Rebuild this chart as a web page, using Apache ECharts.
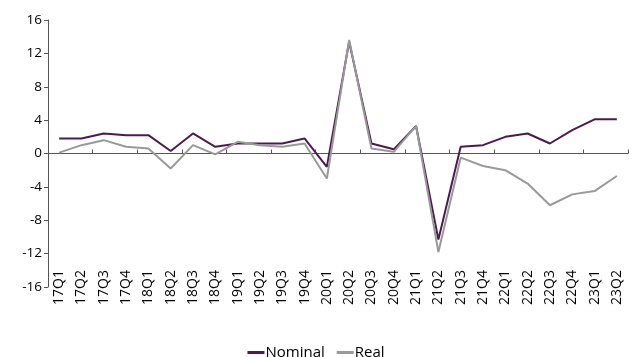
<!DOCTYPE html>
<html><head><meta charset="utf-8">
<script src="https://cdn.jsdelivr.net/npm/echarts@6/dist/echarts.min.js"></script>
<style>html,body{margin:0;padding:0;background:#fff}#c{width:632px;height:357px}</style>
</head><body><div id="c"></div>
<script>
const categories = ["17Q1","17Q2","17Q3","17Q4","18Q1","18Q2","18Q3","18Q4","19Q1","19Q2","19Q3","19Q4","20Q1","20Q2","20Q3","20Q4","21Q1","21Q2","21Q3","21Q4","22Q1","22Q2","22Q3","22Q4","23Q1","23Q2"];
const nominal = [1.8,1.8,2.4,2.2,2.2,0.3,2.4,0.8,1.2,1.2,1.2,1.8,-1.6,13.4,1.2,0.5,3.3,-10.3,0.8,1.0,2.0,2.4,1.2,2.8,4.1,4.1];
const real = [0.1,1.0,1.6,0.8,0.6,-1.8,1.0,-0.1,1.4,1.0,0.8,1.2,-3.0,13.6,0.6,0.2,3.3,-11.8,-0.5,-1.5,-2.0,-3.6,-6.2,-4.9,-4.5,-2.7];
const yTicks = [-16,-12,-8,-4,0,4,8,12,16];

const chart = echarts.init(document.getElementById('c'));
const font = '"Open Sans", "Noto Sans", sans-serif';
chart.setOption({
  animation: false,
  grid: {left: 48, right: 4, top: 20, bottom: 70, containLabel: false},
  legend: {
    top: 340, left: 'center', itemWidth: 17, itemHeight: 3, itemGap: 12,
    icon: 'rect',
    textStyle: {fontFamily: font, fontSize: 15, color: '#000', padding: [0,0,0,-4]},
    data: ['Nominal','Real']
  },
  xAxis: [
    {type: 'category', data: categories, boundaryGap: true, position: 'bottom',
     axisLine: {show: false, onZero: false}, axisTick: {show: false},
     axisLabel: {rotate: 90, margin: -17, fontFamily: font, fontSize: 14, color: '#000', interval: 0}},
    {type: 'category', data: categories, boundaryGap: true,
     axisLine: {show: true, onZero: true, lineStyle: {color: '#555', width: 1}},
     axisTick: {show: true, inside: false, length: 4, lineStyle: {color: '#555'}},
     axisLabel: {show: false}}
  ],
  yAxis: {
    type: 'value', min: yTicks[0], max: yTicks[yTicks.length-1], interval: 4,
    axisLine: {show: true, lineStyle: {color: '#555'}},
    axisTick: {show: true, length: 4, lineStyle: {color: '#555'}},
    splitLine: {show: false},
    axisLabel: {fontFamily: font, fontSize: 13.5, color: '#000', margin: 6,
      formatter: v => String(v)}
  },
  series: [
    {name: 'Nominal', type: 'line', data: nominal, xAxisIndex: 0, symbol: 'none',
     lineStyle: {color: '#4b1b4f', width: 2}, itemStyle: {color: '#4b1b4f'}},
    {name: 'Real', type: 'line', data: real, xAxisIndex: 0, symbol: 'none',
     lineStyle: {color: '#999999', width: 2}, itemStyle: {color: '#999999'}}
  ]
});
</script></body></html>
